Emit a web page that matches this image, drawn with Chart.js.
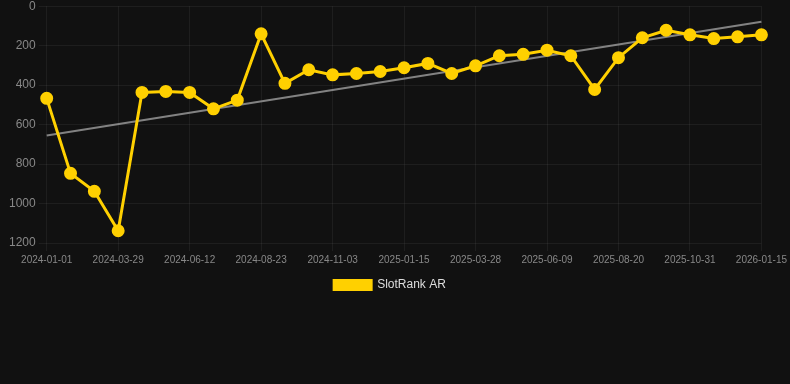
<!DOCTYPE html>
<html>
<head>
<meta charset="utf-8">
<script src="https://cdn.jsdelivr.net/npm/chart.js@4/dist/chart.umd.min.js"></script>
<style>
  html, body { margin: 0; padding: 0; background: #111111; overflow: hidden; }
  #wrap { width: 790px; height: 305px; position: relative; margin-top: -4px; }
</style>
</head>
<body>
<div id="wrap"><canvas id="c"></canvas></div>
<script>
const categories = [
  "2024-01-01","2024-01-30","2024-02-28","2024-03-29","2024-04-23","2024-05-18",
  "2024-06-12","2024-07-06","2024-07-30","2024-08-23","2024-09-16","2024-10-10",
  "2024-11-03","2024-11-27","2024-12-21","2025-01-15","2025-02-08","2025-03-04",
  "2025-03-28","2025-04-21","2025-05-15","2025-06-09","2025-07-03","2025-07-27",
  "2025-08-20","2025-09-13","2025-10-07","2025-10-31","2025-11-25","2025-12-20",
  "2026-01-15"
];
const slotRank = [
  467, 847, 938, 1138, 437, 432, 437, 520, 476, 140,
  391, 322, 348, 341, 331, 312, 290, 341, 302, 251,
  244, 223, 251, 422, 261, 160, 122, 145, 164, 155,
  145
];
const trendStart = 655;
const trendEnd = 79;
const yTicks = [0, 200, 400, 600, 800, 1000, 1200];

const trend = categories.map((_, i) => i === 0 ? trendStart : (i === categories.length - 1 ? trendEnd : null));

Chart.defaults.font.family = "'Liberation Sans', Arial, Helvetica, sans-serif";

const legendShift = {
  id: 'legendShift',
  afterLayout(chart) {
    if (chart.legend) { chart.legend.left -= 8; chart.legend.right -= 8; }
  }
};

new Chart(document.getElementById('c'), {
  type: 'line',
  plugins: [legendShift],
  data: {
    labels: categories,
    datasets: [
      {
        label: 'SlotRank AR',
        data: slotRank,
        borderColor: '#FFD000',
        backgroundColor: '#FFD000',
        borderWidth: 3,
        pointRadius: 5,
        pointHoverRadius: 5,
        pointBackgroundColor: '#FFD000',
        pointBorderColor: '#FFD000',
        tension: 0,
        order: 1
      },
      {
        label: 'trend',
        data: trend,
        spanGaps: true,
        borderColor: 'rgba(150,150,150,0.85)',
        borderWidth: 2,
        pointRadius: 0,
        fill: false,
        order: 2
      }
    ]
  },
  options: {
    responsive: true,
    maintainAspectRatio: false,
    animation: false,
    layout: { padding: { left: 6, right: 0, top: 0, bottom: 0 } },
    plugins: {
      legend: {
        position: 'bottom',
        labels: {
          color: '#dddddd',
          boxWidth: 37,
          boxHeight: 9,
          font: { size: 12 },
          filter: (item) => item.text === 'SlotRank AR'
        }
      },
      tooltip: { enabled: false }
    },
    scales: {
      x: {
        grid: { color: 'rgba(255,255,255,0.055)' },
        border: { display: false },
        ticks: {
          color: '#888888',
          font: { size: 10 },
          maxRotation: 0,
          autoSkip: true,
          maxTicksLimit: 11
        }
      },
      y: {
        reverse: true,
        min: 0,
        max: 1200,
        afterBuildTicks: (axis) => { axis.ticks = yTicks.map(v => ({ value: v })); },
        grid: { color: 'rgba(255,255,255,0.055)' },
        border: { display: false },
        ticks: {
          color: '#888888',
          font: { size: 12 },
          callback: (v) => String(v)
        }
      }
    }
  }
});
</script>
</body>
</html>
